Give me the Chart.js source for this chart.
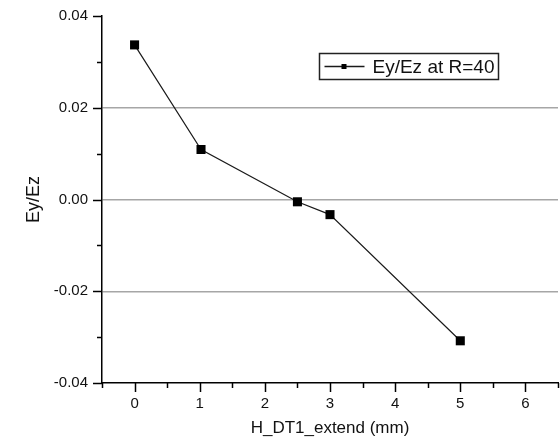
<!DOCTYPE html>
<html>
<head>
<meta charset="utf-8">
<script src="https://cdn.jsdelivr.net/npm/chart.js@4/dist/chart.umd.min.js"></script>
<style>
  html, body { margin: 0; padding: 0; background: #ffffff; }
  #wrap { width: 560px; height: 444px; }
</style>
</head>
<body>
<div id="wrap"><canvas id="c" width="560" height="444"></canvas></div>
<script>
// H_DT1 extension (mm) against the Ey/Ez ratio at R=40
const seriesName = 'Ey/Ez at R=40';
const extendMM = [0, 1.02, 2.5, 3, 5];
const ratioEyEz = [0.0337, 0.0109, -0.0005, -0.0033, -0.0308];

const xTicks = [0, 1, 2, 3, 4, 5, 6];
const yTicks = [-0.04, -0.02, 0.00, 0.02, 0.04];
const xRange = [-0.5, 6.5];
const yRange = [-0.04, 0.04];

const xTitle = 'H_DT1_extend (mm)';
const yTitle = 'Ey/Ez';

const FONT = "'Liberation Sans', Arial, sans-serif";
const INK = '#111111';

// Major and minor tick marks drawn outward from both axes
const tickMarks = {
  id: 'tickMarks',
  afterDraw(chart) {
    const {ctx, chartArea, scales: {x, y}} = chart;
    ctx.save();
    ctx.strokeStyle = '#000';
    ctx.lineWidth = 1.5;
    const major = 9, minor = 5;
    const xs = [];
    xTicks.forEach((v, i) => {
      xs.push([v, major]);
      xs.push([v - 0.5, minor]);
      if (i === xTicks.length - 1) xs.push([v + 0.5, minor]);
    });
    xs.forEach(([v, len]) => {
      const px = Math.round(x.getPixelForValue(v)) + 0.5;
      ctx.beginPath();
      ctx.moveTo(px, chartArea.bottom);
      ctx.lineTo(px, chartArea.bottom + len);
      ctx.stroke();
    });
    const ys = [];
    yTicks.forEach((v, i) => {
      ys.push([v, major]);
      if (i < yTicks.length - 1) ys.push([(v + yTicks[i + 1]) / 2, minor]);
    });
    ys.forEach(([v, len]) => {
      const py = Math.round(y.getPixelForValue(v)) + 0.5;
      ctx.beginPath();
      ctx.moveTo(chartArea.left, py);
      ctx.lineTo(chartArea.left - len, py);
      ctx.stroke();
    });
    ctx.restore();
  }
};

// Boxed legend with the line-and-square symbol of the series
const boxedLegend = {
  id: 'boxedLegend',
  afterDraw(chart) {
    const {ctx, chartArea} = chart;
    const ds = chart.data.datasets[0];
    const bx = chartArea.left + 217.5, by = 53.5, bw = 179, bh = 26;
    ctx.save();
    ctx.fillStyle = '#fff';
    ctx.fillRect(bx, by, bw, bh);
    ctx.strokeStyle = '#222';
    ctx.lineWidth = 1.5;
    ctx.strokeRect(bx, by, bw, bh);
    const cy = by + bh / 2;
    ctx.strokeStyle = ds.borderColor;
    ctx.lineWidth = 1.5;
    ctx.beginPath();
    ctx.moveTo(bx + 5, cy);
    ctx.lineTo(bx + 45, cy);
    ctx.stroke();
    ctx.fillStyle = ds.pointBackgroundColor;
    ctx.fillRect(bx + 22, cy - 2.5, 5, 5);
    ctx.fillStyle = INK;
    ctx.font = '19px ' + FONT;
    ctx.textBaseline = 'middle';
    ctx.textAlign = 'left';
    ctx.fillText(ds.label, bx + 53, cy + 1);
    ctx.restore();
  }
};

new Chart(document.getElementById('c'), {
  type: 'line',
  data: {
    datasets: [{
      label: seriesName,
      data: extendMM.map((v, i) => ({x: v, y: ratioEyEz[i]})),
      borderColor: '#1a1a1a',
      borderWidth: 1.2,
      pointStyle: 'rect',
      pointRadius: 6.4,
      pointHoverRadius: 6.4,
      pointBackgroundColor: '#000',
      pointBorderColor: '#000',
      pointBorderWidth: 0,
      tension: 0,
      fill: false
    }]
  },
  options: {
    responsive: false,
    animation: false,
    devicePixelRatio: 1,
    layout: { autoPadding: false, padding: { top: 16, right: 2, left: 0, bottom: 0 } },
    plugins: { legend: { display: false }, tooltip: { enabled: false } },
    scales: {
      x: {
        type: 'linear',
        min: xRange[0],
        max: xRange[1],
        afterBuildTicks(s) { s.ticks = xTicks.map(v => ({value: v})); },
        afterFit(s) { s.height = 61; s.paddingLeft = 0; s.paddingRight = 0; },
        border: { display: true, color: '#000', width: 1.5 },
        grid: { display: true, drawOnChartArea: false, drawTicks: false },
        ticks: {
          color: INK,
          font: { family: FONT, size: 15 },
          padding: 12,
          maxRotation: 0,
          callback: v => String(v)
        },
        title: {
          display: true,
          text: xTitle,
          color: INK,
          font: { family: FONT, size: 17 },
          padding: { top: 0, bottom: 5 }
        }
      },
      y: {
        type: 'linear',
        min: yRange[0],
        max: yRange[1],
        afterBuildTicks(s) { s.ticks = yTicks.map(v => ({value: v})); },
        afterFit(s) { s.width = 102; s.paddingTop = 0; s.paddingBottom = 0; },
        border: { display: true, color: '#000', width: 1.5 },
        grid: {
          drawTicks: false,
          lineWidth: 1.5,
          color: c => (c.tick && Math.abs(Math.abs(c.tick.value) - 0.04) < 1e-9) ? 'rgba(0,0,0,0)' : '#a6a6a6'
        },
        ticks: {
          color: INK,
          font: { family: FONT, size: 15 },
          padding: 14,
          callback: v => Number(v).toFixed(2)
        },
        title: {
          display: true,
          text: yTitle,
          color: INK,
          font: { family: FONT, size: 18 },
          padding: { top: 23, bottom: 0 }
        }
      }
    }
  },
  plugins: [tickMarks, boxedLegend]
});
</script>
</body>
</html>
